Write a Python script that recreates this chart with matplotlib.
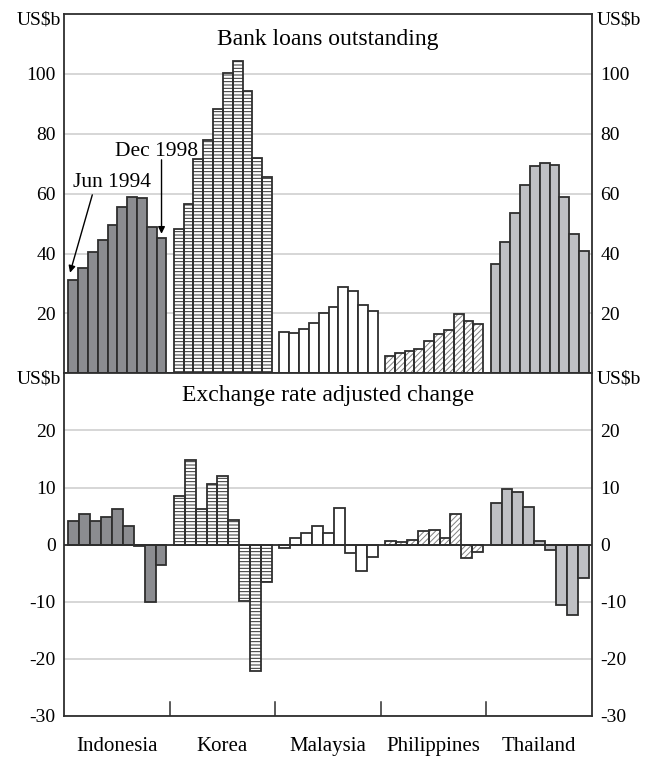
import matplotlib
matplotlib.use("Agg")
import matplotlib.pyplot as plt
import numpy as np

plt.rcParams['font.family'] = ['Liberation Serif', 'DejaVu Serif']
plt.rcParams['hatch.linewidth'] = 0.7
plt.rcParams['axes.unicode_minus'] = False

countries = ['Indonesia', 'Korea', 'Malaysia', 'Philippines', 'Thailand']

# half-yearly levels, Jun 1994 .. Dec 1998 (US$b)
indonesia_lvl = [31.1, 35.1, 40.6, 44.6, 49.4, 55.7, 58.9, 58.7, 48.7, 45.1]
korea_lvl = [48.3, 56.6, 71.7, 77.8, 88.3, 100.2, 104.2, 94.3, 72.0, 65.6]
malaysia_lvl = [13.9, 13.6, 14.7, 16.9, 20.2, 22.2, 28.8, 27.5, 22.9, 20.7]
philippines_lvl = [5.9, 6.9, 7.4, 8.2, 10.7, 13.2, 14.4, 19.7, 17.5, 16.3]
thailand_lvl = [36.5, 43.9, 53.7, 62.9, 69.2, 70.1, 69.6, 59.0, 46.4, 40.8]

# exchange rate adjusted change per half-year (US$b)
indonesia_chg = [4.1, 5.4, 4.1, 4.8, 6.2, 3.2, -0.3, -10.0, -3.5]
korea_chg = [8.5, 14.8, 6.2, 10.6, 12.0, 4.3, -9.9, -22.1, -6.6]
malaysia_chg = [-0.5, 1.1, 2.0, 3.3, 2.0, 6.5, -1.4, -4.7, -2.2]
philippines_chg = [0.7, 0.4, 0.9, 2.4, 2.5, 1.1, 5.3, -2.3, -1.3]
thailand_chg = [7.3, 9.8, 9.2, 6.6, 0.6, -0.9, -10.5, -12.4, -5.8]

levels = [indonesia_lvl, korea_lvl, malaysia_lvl, philippines_lvl, thailand_lvl]
changes = [indonesia_chg, korea_chg, malaysia_chg, philippines_chg, thailand_chg]

edge = '#2e2e2e'
styles = [
    dict(fc='#8b8c90', hatch=None, hc=None),
    dict(fc='white', hatch='-----', hc='#2e2e2e'),
    dict(fc='white', hatch=None, hc=None),
    dict(fc='white', hatch='//////', hc='#808080'),
    dict(fc='#bfc0c4', hatch=None, hc=None),
]

fig = plt.figure(figsize=(6.51, 7.60), dpi=100)
W, H = 651, 760
left, right = 64 / W, 592 / W
ax1 = fig.add_axes([left, 1 - 373.3 / H, right - left, (373.3 - 14) / H])
ax2 = fig.add_axes([left, 1 - 716 / H, right - left, (716 - 373.3) / H])

offset = 0.04
span = 0.93


def draw(ax, data):
    for i, vals in enumerate(data):
        n = len(vals)
        w = span / n
        x = i + offset + w * (np.arange(n) + 0.5)
        st = styles[i]
        if st['hatch']:
            ax.bar(x, vals, width=w, color=st['fc'], edgecolor=st['hc'],
                   hatch=st['hatch'], linewidth=0, zorder=3)
            ax.bar(x, vals, width=w, fill=False, edgecolor=edge,
                   linewidth=1.3, zorder=4)
        else:
            ax.bar(x, vals, width=w, color=st['fc'], edgecolor=edge,
                   linewidth=1.3, zorder=3)


draw(ax1, levels)
draw(ax2, changes)

ax1.set_ylim(0, 120)
ax1.set_yticks([20, 40, 60, 80, 100])
ax2.set_ylim(-30, 30)
ax2.set_yticks([-30, -20, -10, 0, 10, 20])
ax2.axhline(0, color=edge, lw=1.3, zorder=5)

for ax in (ax1, ax2):
    ax.set_xlim(0, 5)
    ax.grid(axis='y', color='#cfcfcf', lw=1.2, zorder=0)
    ax.tick_params(axis='y', length=0, labelsize=14, pad=6,
                   labelright=True, right=False)
    for s in ax.spines.values():
        s.set_color(edge)
        s.set_linewidth(1.3)

ax1.set_xticks([])
ax2.set_xticks([0.5, 1.5, 2.5, 3.5, 4.5])
ax2.set_xticklabels(countries, fontsize=15)
ax2.tick_params(axis='x', length=0, pad=15)
for b in [1, 2, 3, 4]:
    ax2.plot([b, b], [-30, -27.5], color=edge, lw=1.1, zorder=5)

ax1.text(0.5, 0.93, 'Bank loans outstanding', transform=ax1.transAxes,
         ha='center', va='center', fontsize=17)
ax2.text(0.5, 0.935, 'Exchange rate adjusted change', transform=ax2.transAxes,
         ha='center', va='center', fontsize=17)

for ax in (ax1, ax2):
    lo, hi = ax.get_ylim()
    y = hi - (hi - lo) / 60
    ax.text(-0.006, y, 'US$b', ha='right', va='center', fontsize=14,
            transform=ax.get_yaxis_transform())
    ax.text(1.008, y, 'US$b', ha='left', va='center', fontsize=14,
            transform=ax.get_yaxis_transform())

# annotations on Indonesia
ax1.text(0.455, 63.6, 'Jun 1994', ha='center', va='center', fontsize=15.5)
ax1.annotate('', xy=(0.057, 33.6), xytext=(0.268, 59.6),
             arrowprops=dict(arrowstyle='-|>', color='black', lw=1,
                             shrinkA=0, shrinkB=0, mutation_scale=10))
ax1.text(0.88, 74, 'Dec 1998', ha='center', va='center', fontsize=15.5)
x_dec = offset + 9.5 * span / 10
ax1.annotate('', xy=(x_dec, 46.6), xytext=(x_dec, 71.3),
             arrowprops=dict(arrowstyle='-|>', color='black', lw=1,
                             shrinkA=0, shrinkB=0, mutation_scale=10))

fig.savefig('out.png', dpi=100)
